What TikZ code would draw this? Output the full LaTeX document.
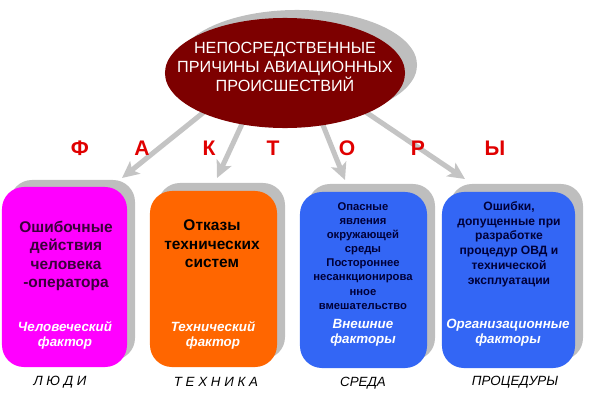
\documentclass[tikz,border=0pt]{standalone}
\usepackage{fontspec}
\setmainfont{Liberation Sans}
\usepackage{xcolor}
\usetikzlibrary{shapes.geometric,arrows.meta,backgrounds}

\definecolor{dkred}{HTML}{7D0000}
\definecolor{shgray}{HTML}{BEBEBE}
\definecolor{argray}{HTML}{C4C4C4}
\definecolor{lred}{HTML}{E00000}
\definecolor{mag}{HTML}{FF00FF}
\definecolor{orng}{HTML}{FF6600}
\definecolor{blu}{HTML}{3366F5}
\definecolor{dkmag}{HTML}{3A003A}
\definecolor{dkblu}{HTML}{000038}

\tikzset{
  fbox/.style={rounded corners=0.55cm, inner sep=0pt, minimum height=4.4cm},
  fshadow/.style={fbox, fill=shgray},
  farrow/.style={draw=argray, line width=3.6pt, -{Stealth[length=0.42cm,width=0.4cm,inset=0.1cm]}, shorten <=-0.2cm},
  letter/.style={text=lred, font=\fontsize{15}{15}\selectfont\bfseries},
  fnote/.style={text=white, align=center, font=\fontsize{9.5}{10.8}\selectfont\bfseries\itshape},
  place/.style={font=\fontsize{9.5}{10}\selectfont\itshape}
}

\begin{document}
\begin{tikzpicture}[x=0.025cm, y=-0.025cm]
  \useasboundingbox (0,0) rectangle (600,401);

  % ellipse with its shadow
  \node[ellipse, fill=shgray, minimum width=6cm, minimum height=2.75cm, inner sep=0pt] (ellsh) at (297,65) {};
  \node[ellipse, fill=dkred, minimum width=6cm, minimum height=2.75cm, inner sep=0pt] (ell) at (285,73) {};
  \node[text=white, align=center, font=\fontsize{11.5}{13.5}\selectfont] (title) at (285,67)
    {НЕПОСРЕДСТВЕННЫЕ\\ПРИЧИНЫ АВИАЦИОННЫХ\\ПРОИСШЕСТВИЙ};

  % letters
  \node[letter] (f1) at (80,148) {Ф};
  \node[letter] (f2) at (142,148) {А};
  \node[letter] (f3) at (209,148) {К};
  \node[letter] (f4) at (273,148) {Т};
  \node[letter] (f5) at (347,148) {О};
  \node[letter] (f6) at (418,148) {Р};
  \node[letter] (f7) at (495,148) {Ы};

  % boxes
  \node[fshadow, minimum width=3.125cm, minimum height=4.5cm] (sh1) at (72.5,270) {};
  \node[fbox, fill=mag, minimum width=3.125cm, minimum height=4.5cm] (b1) at (64.5,277) {};
  \node[fshadow, minimum width=3.175cm] (sh2) at (221.5,271) {};
  \node[fbox, fill=orng, minimum width=3.175cm] (b2) at (213.5,279) {};
  \node[fshadow, minimum width=3.175cm] (sh3) at (371.5,272) {};
  \node[fbox, fill=blu, minimum width=3.175cm] (b3) at (363.5,280) {};
  \node[fshadow, minimum width=3.325cm] (sh4) at (516.5,272) {};
  \node[fbox, fill=blu, minimum width=3.325cm] (b4) at (508.5,280) {};

  % arrows
  \coordinate (t1) at (122,178);
  \coordinate (t2) at (217,178);
  \coordinate (t3) at (345,180);
  \coordinate (t4) at (465,179);
  \begin{scope}[on background layer]
    \draw[farrow] (ell.206) -- (t1);
    \draw[farrow] (ell.230) -- (t2);
    \draw[farrow] (ell.306) -- (t3);
    \draw[farrow] (ell.334) -- (t4);
  \end{scope}

  % texts of the boxes
  \node[text=dkmag, align=center, font=\fontsize{11}{13}\selectfont\bfseries] (txt1) at (66,256)
    {Ошибочные\\действия\\человека\\-оператора};
  \node[fnote] (nt1) at (65,335) {Человеческий\\фактор};
  \node[text=black, align=center, font=\fontsize{11}{13.2}\selectfont\bfseries] (txt2) at (212,244)
    {Отказы\\технических\\систем};
  \node[fnote] (nt2) at (213,335) {Технический\\фактор};
  \node[text=dkblu, align=center, font=\fontsize{8}{10}\selectfont\bfseries] (txt3) at (363,256)
    {Опасные\\явления\\окружающей\\среды\\Постороннее\\несанкционирова\\нное\\вмешательство};
  \node[fnote] (nt3) at (363,333) {Внешние\\факторы};
  \node[text=dkblu, align=center, font=\fontsize{8.6}{10.5}\selectfont\bfseries] (txt4) at (509,244)
    {Ошибки,\\допущенные при\\разработке\\процедур ОВД и\\технической\\эксплуатации};
  \node[fnote] (nt4) at (508,333) {Организационные\\факторы};

  % captions
  \node[place] (p1) at (60,382) {Л Ю Д И};
  \node[place] (p2) at (216,382) {Т Е Х Н И К А};
  \node[place] (p3) at (363,383) {СРЕДА};
  \node[place] (p4) at (515,382) {ПРОЦЕДУРЫ};
\end{tikzpicture}
\end{document}
